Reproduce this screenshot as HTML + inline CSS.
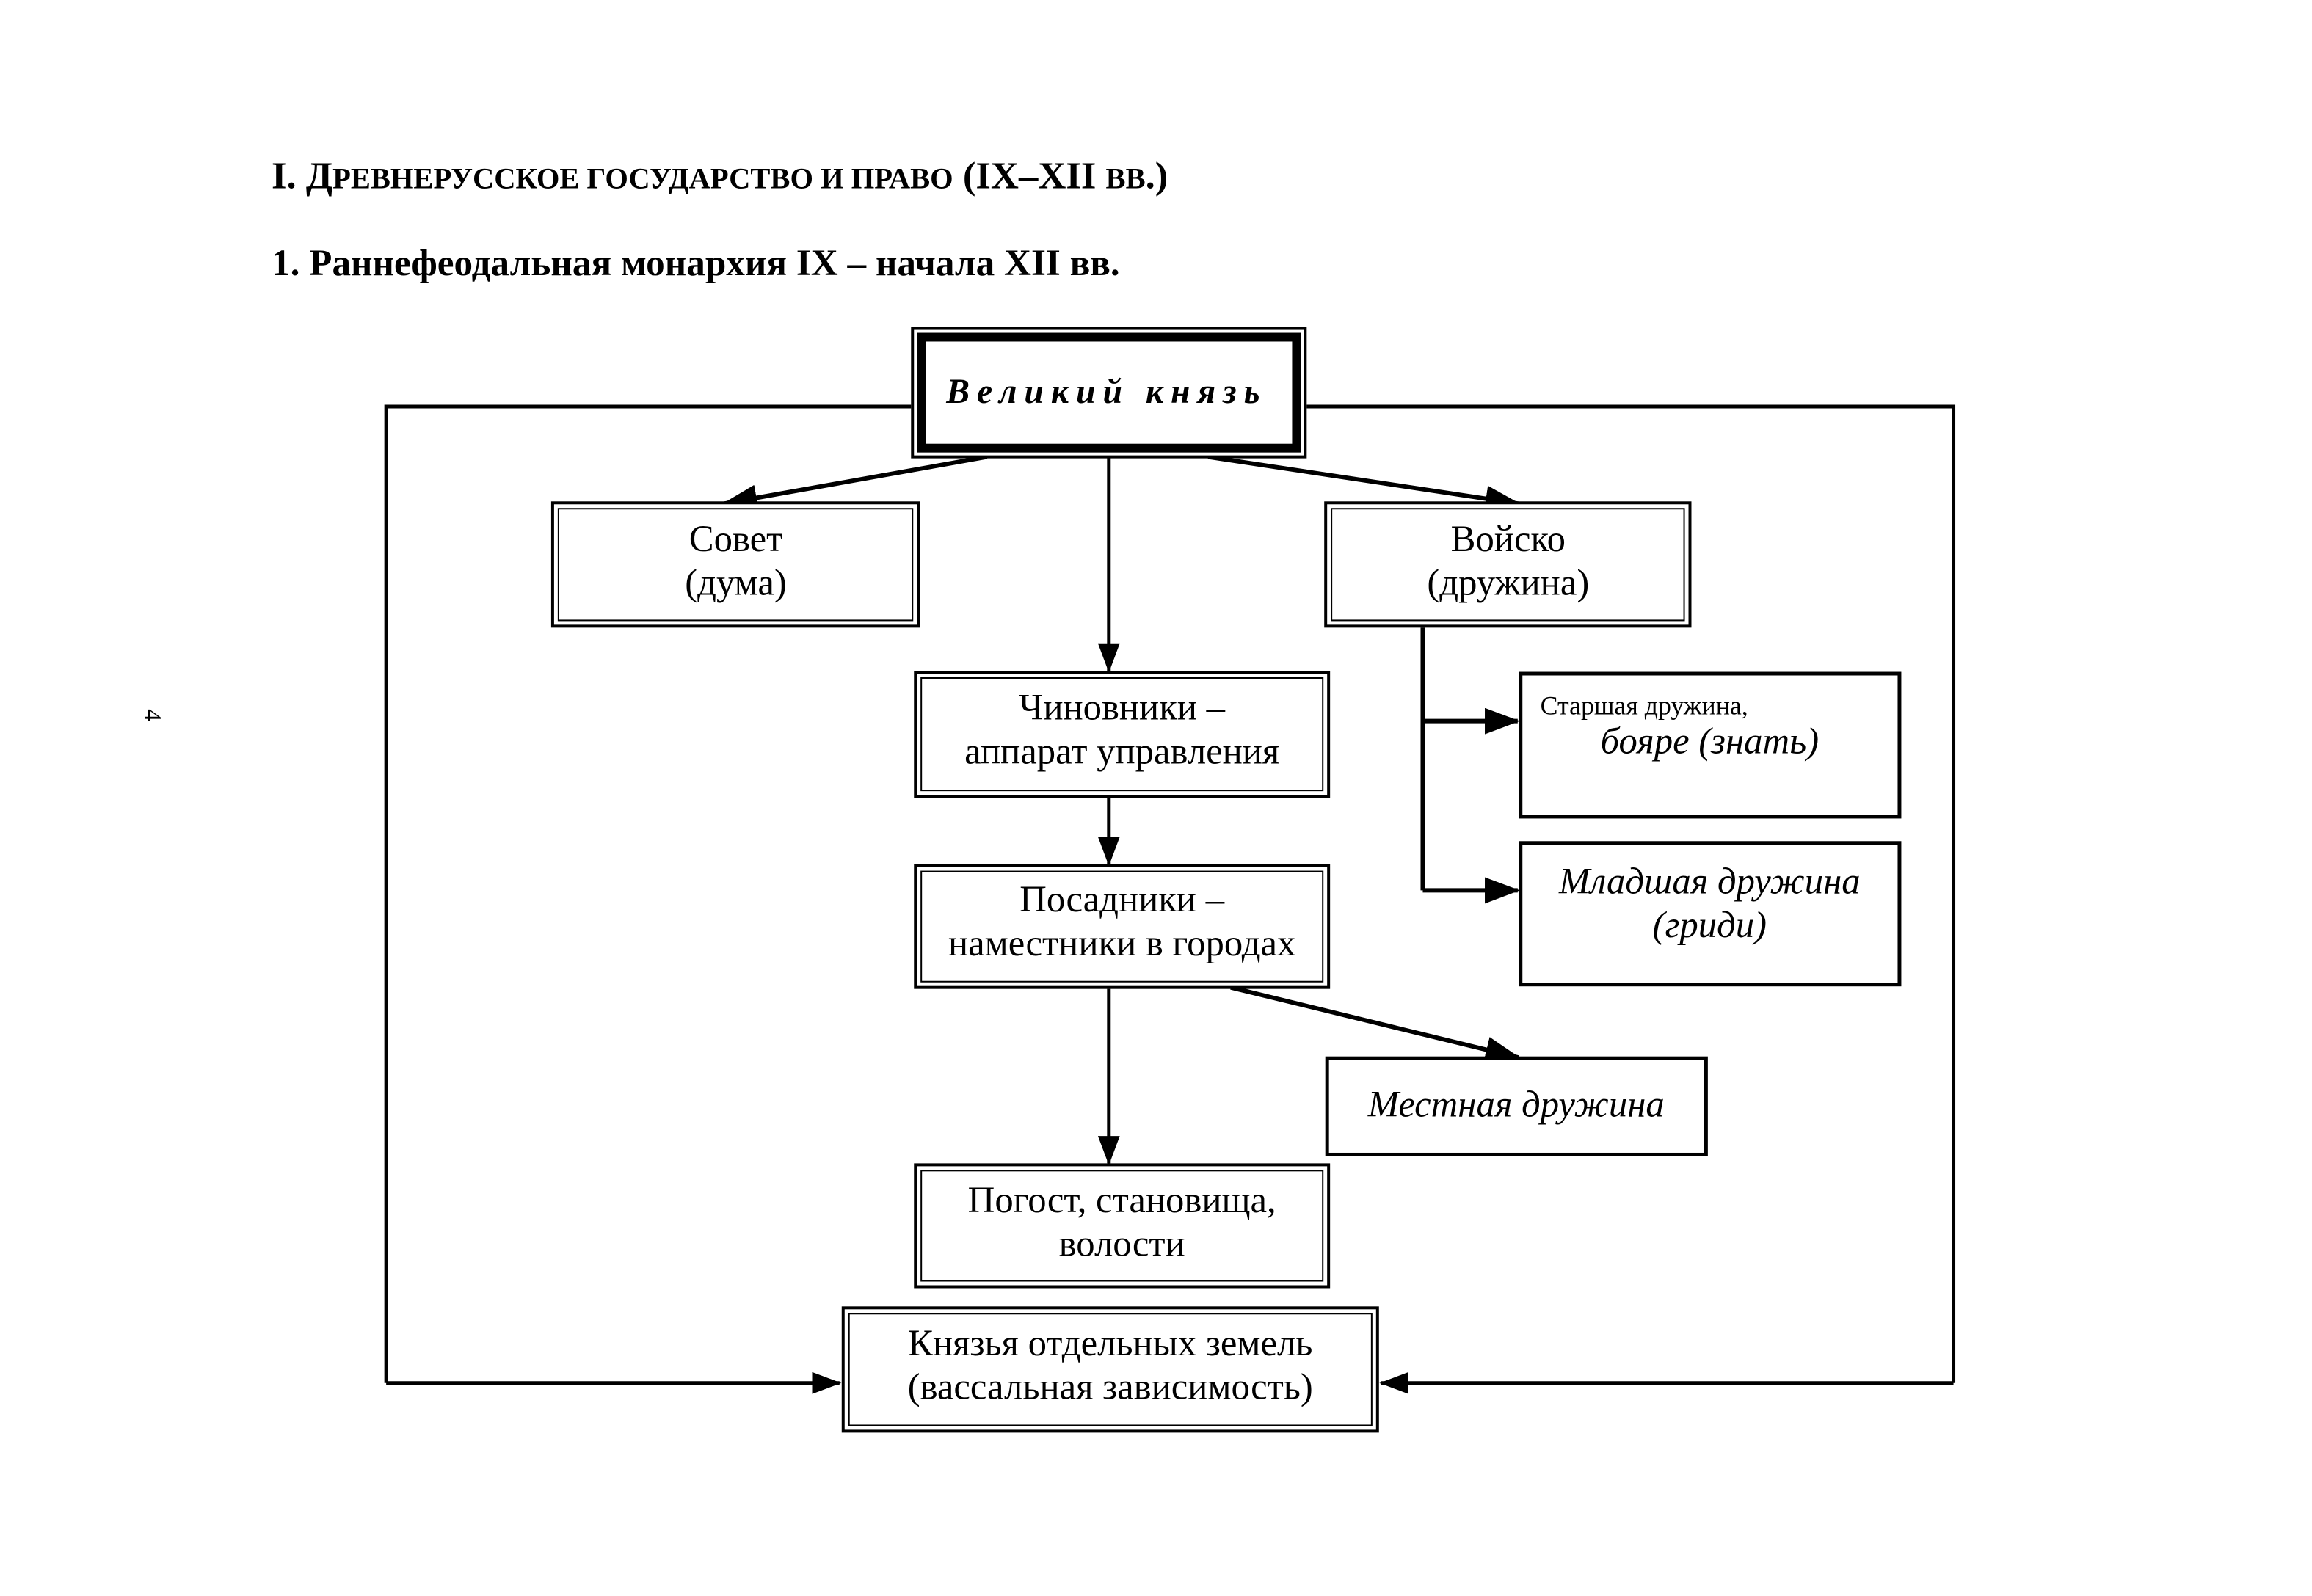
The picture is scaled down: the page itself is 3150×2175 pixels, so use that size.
<!DOCTYPE html>
<html><head><meta charset="utf-8"><style>
html,body{margin:0;padding:0;background:#fff;}
svg{display:block;}
text{font-family:"Liberation Serif",serif;fill:#000;}
</style></head><body>
<svg width="3150" height="2175" viewBox="0 0 3150 2175" xmlns="http://www.w3.org/2000/svg">
<defs>
<marker id="a" markerWidth="8" markerHeight="6" refX="7.5" refY="3" orient="auto" markerUnits="strokeWidth">
<path d="M0,0 L8,3 L0,6 z" fill="#000"/></marker>
</defs>
<g transform="scale(0.9946)">
<text x="372" y="258" font-size="52" font-weight="bold" textLength="1228" lengthAdjust="spacingAndGlyphs">I. Д<tspan font-size="40">РЕВНЕРУССКОЕ ГОСУДАРСТВО И ПРАВО</tspan> (IX–XII <tspan font-size="40">ВВ</tspan>.)</text>
<text x="372" y="377" font-size="51" font-weight="bold" textLength="1162" lengthAdjust="spacingAndGlyphs">1. Раннефеодальная монархия IX – начала XII вв.</text>
<text transform="translate(198,980) rotate(90)" font-size="34" text-anchor="middle">4</text>

<g fill="none" stroke="#000">
<path d="M1248,557 H529 V1895" stroke-width="5"/>
<path d="M1790,557 H2676 V1895" stroke-width="5"/>
<path d="M529,1895 H1150" stroke-width="5" marker-end="url(#a)"/>
<path d="M2676,1895 H1892" stroke-width="5" marker-end="url(#a)"/>
<path d="M1352,626 L992,690" stroke-width="6" marker-end="url(#a)"/>
<path d="M1655,626 L2080,690" stroke-width="6" marker-end="url(#a)"/>
<path d="M1519,626 V919" stroke-width="5" marker-end="url(#a)"/>
<path d="M1519,1093 V1184" stroke-width="5" marker-end="url(#a)"/>
<path d="M1519,1355 V1594" stroke-width="5" marker-end="url(#a)"/>
<path d="M1686,1353 L2080,1449" stroke-width="6" marker-end="url(#a)"/>
<path d="M1949,860 V1220" stroke-width="6"/>
<path d="M1949,988 H2079" stroke-width="6" marker-end="url(#a)"/>
<path d="M1949,1220 H2079" stroke-width="6" marker-end="url(#a)"/>

<rect x="1250" y="450" width="538" height="176" fill="#fff" stroke-width="4"/>
<rect x="1262" y="462" width="514" height="152" stroke-width="12"/>
<g fill="#fff">
<rect x="757" y="689" width="501" height="169" stroke-width="4"/>
<rect x="765" y="697" width="485" height="153" stroke-width="2"/>
<rect x="1816" y="689" width="499" height="169" stroke-width="4"/>
<rect x="1824" y="697" width="483" height="153" stroke-width="2"/>
<rect x="1254" y="921" width="566" height="170" stroke-width="4"/>
<rect x="1262" y="929" width="550" height="154" stroke-width="2"/>
<rect x="1254" y="1186" width="566" height="167" stroke-width="4"/>
<rect x="1262" y="1194" width="550" height="151" stroke-width="2"/>
<rect x="1254" y="1596" width="566" height="167" stroke-width="4"/>
<rect x="1262" y="1604" width="550" height="151" stroke-width="2"/>
<rect x="1155" y="1792" width="732" height="169" stroke-width="4"/>
<rect x="1163" y="1800" width="716" height="153" stroke-width="2"/>
<rect x="2083" y="923" width="519" height="196" stroke-width="5"/>
<rect x="2083" y="1155" width="519" height="194" stroke-width="5"/>
<rect x="1818" y="1450" width="519" height="132" stroke-width="5"/>
</g>
</g>

<g font-size="51" text-anchor="middle">
<text x="1516" y="552" font-size="48" font-weight="bold" font-style="italic" letter-spacing="10">Великий князь</text>
<text x="1008" y="755">Совет</text><text x="1008" y="815">(дума)</text>
<text x="2066" y="755">Войско</text><text x="2066" y="815">(дружина)</text>
<text x="1537" y="986">Чиновники –</text><text x="1537" y="1046">аппарат управления</text>
<text x="1537" y="1249">Посадники –</text><text x="1537" y="1309">наместники в городах</text>
<text x="1537" y="1661">Погост, становища,</text><text x="1537" y="1721">волости</text>
<text x="1521" y="1857">Князья отдельных земель</text><text x="1521" y="1917">(вассальная зависимость)</text>
<text x="2110" y="979" font-size="36" text-anchor="start">Старшая дружина,</text>
<text x="2342" y="1032" font-style="italic">бояре (знать)</text>
<text x="2342" y="1224" font-style="italic">Младшая дружина</text>
<text x="2342" y="1284" font-style="italic">(гриди)</text>
<text x="2077" y="1530" font-style="italic">Местная дружина</text>
</g>
</g>
</svg>
</body></html>
